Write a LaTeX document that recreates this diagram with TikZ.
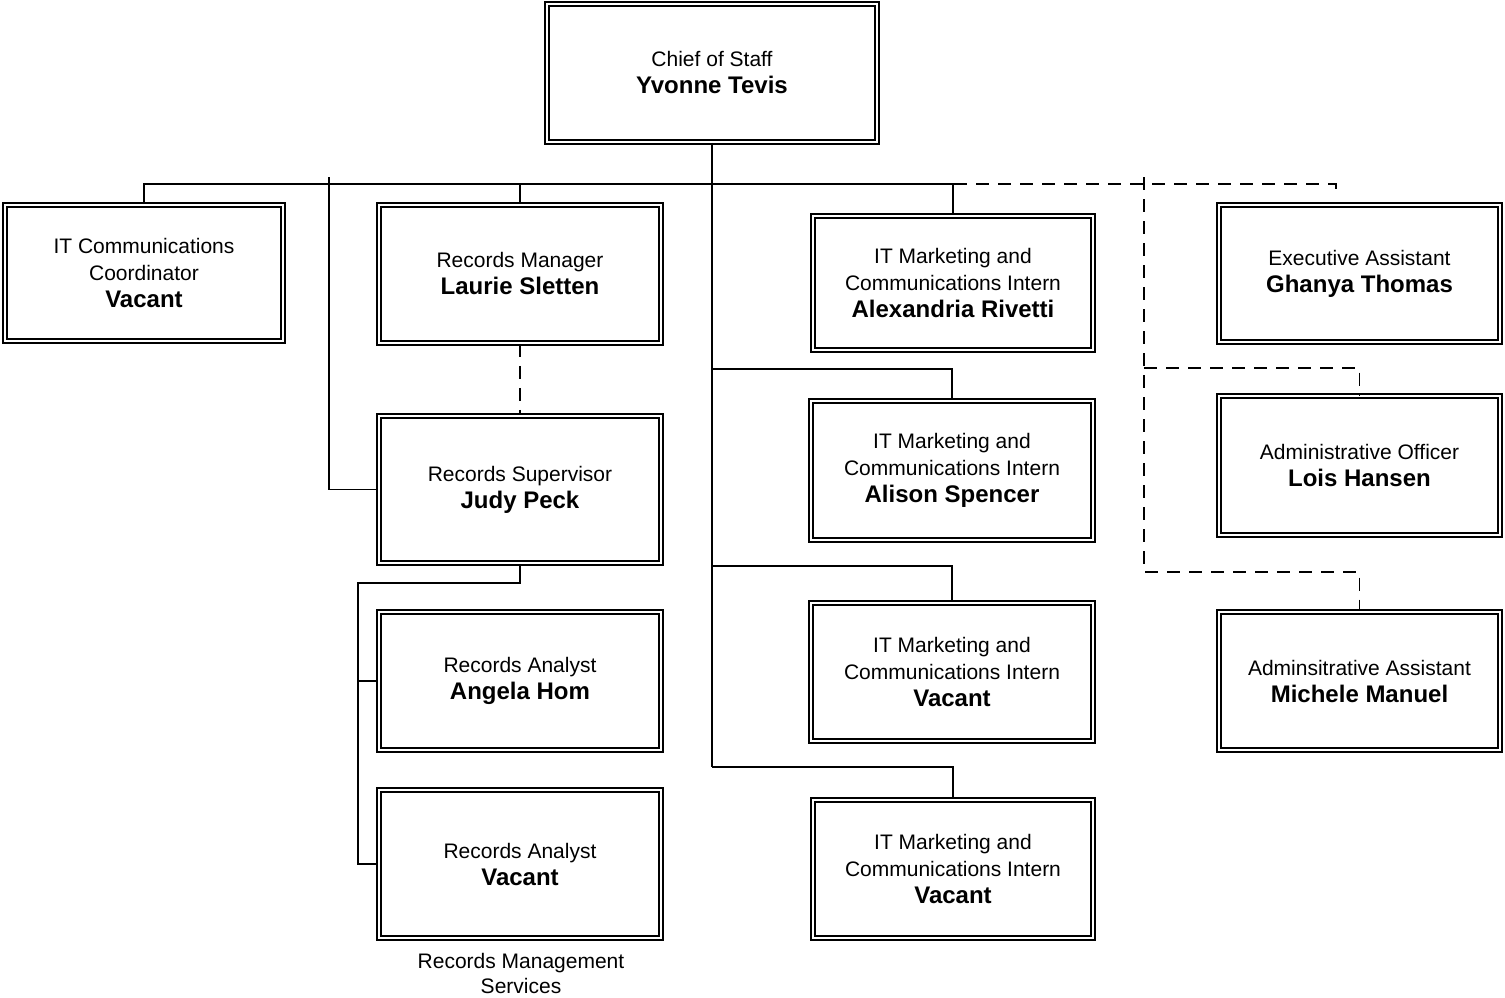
\documentclass[tikz,border=0pt]{standalone}
\usepackage{fontspec}
\setmainfont{Liberation Sans}
\begin{document}
\begin{tikzpicture}[x=0.5pt,y=-0.5pt,
  box/.style={draw, line width=0.9pt, double, double distance=1.3pt, align=center,
    inner sep=0pt, font=\fontsize{10.5}{13.5}\selectfont},
  conn/.style={line width=0.8pt},
  dconn/.style={line width=0.8pt, dash pattern=on 6.5pt off 4.5pt}]
\useasboundingbox (0,0) rectangle (1505,997);
\newcommand{\nm}[1]{{\fontsize{12}{13.5}\selectfont\bfseries #1}}
% boxes
\node[box, minimum width=165pt, minimum height=69pt] (chief) at (712,73) {Chief of Staff\\\nm{Yvonne Tevis}};
\node[box, minimum width=139pt, minimum height=68pt] (itcc) at (144,273) {IT Communications\\Coordinator\\\nm{Vacant}};
\node[box, minimum width=141pt, minimum height=69pt] (rm) at (520,274) {Records Manager\\\nm{Laurie Sletten}};
\node[box, minimum width=140pt, minimum height=67pt] (ia) at (953,283) {IT Marketing and\\Communications Intern\\\nm{Alexandria Rivetti}};
\node[box, minimum width=140.5pt, minimum height=68.5pt] (ea) at (1359.5,273.5) {Executive Assistant\\\nm{Ghanya Thomas}};
\node[box, minimum width=141pt, minimum height=73.5pt] (sup) at (520,489.5) {Records Supervisor\\\nm{Judy Peck}};
\node[box, minimum width=141pt, minimum height=69.5pt] (ib) at (952,470.5) {IT Marketing and\\Communications Intern\\\nm{Alison Spencer}};
\node[box, minimum width=140.5pt, minimum height=69.5pt] (ao) at (1359.5,465.5) {Administrative Officer\\\nm{Lois Hansen}};
\node[box, minimum width=141pt, minimum height=69pt] (raa) at (520,681) {Records Analyst\\\nm{Angela Hom}};
\node[box, minimum width=141pt, minimum height=69pt] (ic) at (952,672) {IT Marketing and\\Communications Intern\\\nm{Vacant}};
\node[box, minimum width=140.5pt, minimum height=69pt] (aa) at (1359.5,681) {Adminsitrative Assistant\\\nm{Michele Manuel}};
\node[box, minimum width=141pt, minimum height=74pt] (rab) at (520,864) {Records Analyst\\\nm{Vacant}};
\node[box, minimum width=140pt, minimum height=69pt] (id) at (953,869) {IT Marketing and\\Communications Intern\\\nm{Vacant}};
\node[align=center, font=\fontsize{10.5}{12.5}\selectfont] (rms) at (521,973) {Records Management\\Services};
% coordinates
\coordinate (bus) at (712,184);
\coordinate (tick) at (329,177);
\coordinate (lb) at (712,369);
\coordinate (lc) at (712,566);
\coordinate (ld) at (712,767);
\coordinate (sb) at (358,583);
\coordinate (dt) at (1144,177);
\coordinate (ob) at (1144,368);
\coordinate (ab) at (1144,572);
\coordinate (es) at (1336,184);
\coordinate (ese) at (1336,197);
% solid connectors
\draw[conn] (chief.south) -- (ld);
\draw[conn] (itcc.north) -- (itcc.north |- bus) -- (ia.north |- bus) -- (ia.north);
\draw[conn] (rm.north |- bus) -- (rm.north);
\draw[conn] (tick) |- (sup.west);
\draw[conn] (lb) -| (ib.north);
\draw[conn] (lc) -| (ic.north);
\draw[conn] (ld) -| (id.north);
\draw[conn] (sup.south) |- (sb) -- (sb |- rab.west) -- (rab.west);
\draw[conn] (sb |- raa.west) -- (raa.west);
% dashed connectors
\draw[dconn] (bus) -- (es) -- (ese);
\draw[dconn] (rm.south) -- (sup.north);
\draw[dconn] (dt) -- (ab) -| (aa.north);
\draw[dconn] (ob) -| (ao.north);
\end{tikzpicture}
\end{document}
